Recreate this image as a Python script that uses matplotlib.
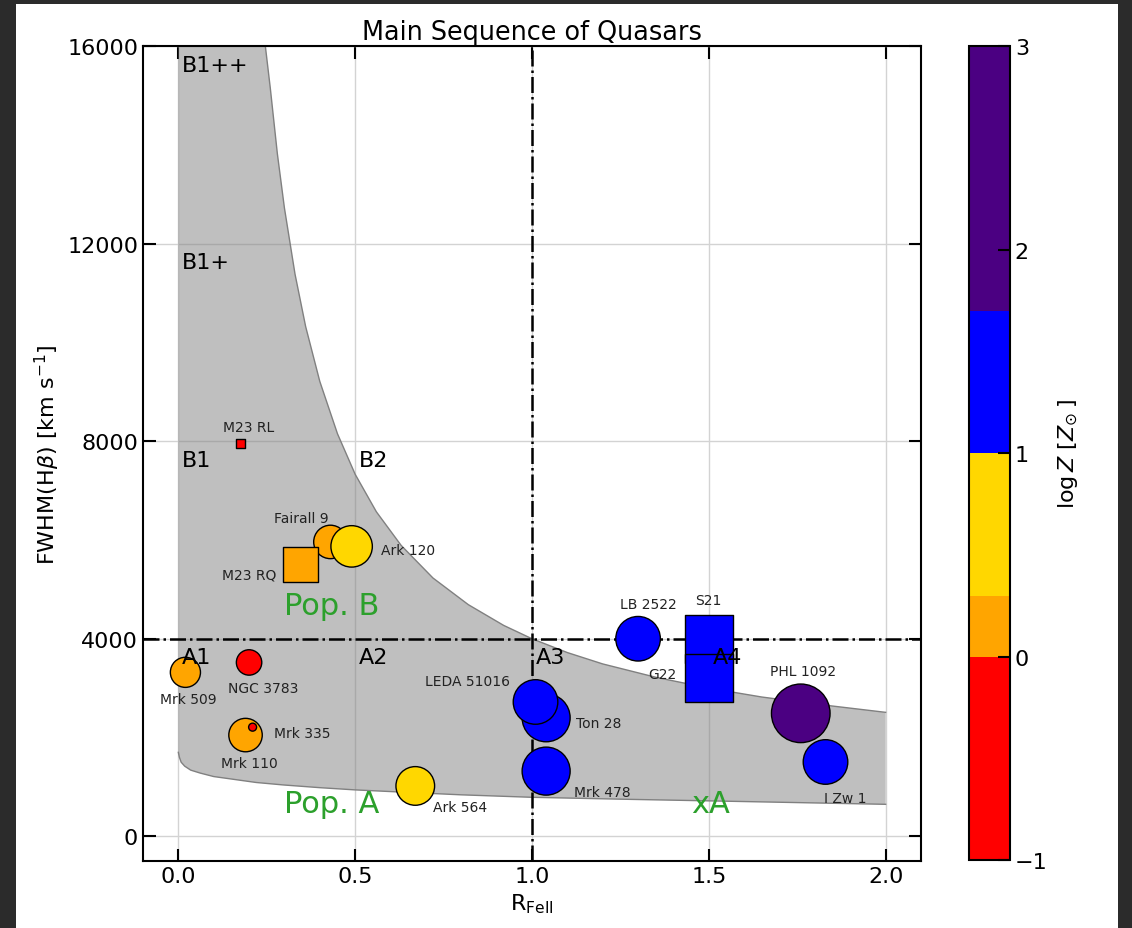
import numpy as np
import matplotlib
matplotlib.use('Agg')
import matplotlib.pyplot as plt
import matplotlib.cm as cm
from matplotlib.colors import ListedColormap, BoundaryNorm
from matplotlib.patches import Rectangle

# circle sources: R_FeII, FWHM(Hb), log Z, bubble area
names = ['Mrk 509', 'NGC 3783', 'Mrk 110', 'Mrk 335', 'Fairall 9', 'Ark 120', 'Ark 564',
         'Ton 28', 'LEDA 51016', 'Mrk 478', 'LB 2522', 'PHL 1092', 'I Zw 1']
rfe = [0.02, 0.20, 0.19, 0.21, 0.43, 0.49, 0.67, 1.04, 1.01, 1.04, 1.30, 1.76, 1.83]
fwhm = [3320, 3520, 2050, 2210, 5960, 5870, 1020, 2400, 2720, 1320, 4000, 2490, 1505]
logz = [0.0, -0.5, 0.0, -0.5, 0.0, 0.7, 0.7, 1.3, 1.3, 1.3, 1.3, 2.0, 1.3]
area = [470, 335, 580, 33, 580, 890, 775, 1195, 1030, 1195, 1030, 1780, 1030]

# square sources
sq_names = ['M23 RL', 'M23 RQ', 'S21', 'G22']
sq_rfe = [0.175, 0.345, 1.5, 1.5]
sq_fwhm = [7950, 5500, 4000, 3200]
sq_logz = [-0.5, 0.0, 1.3, 1.3]
sq_area = [45, 625, 1210, 1210]

# label anchor (centre) for each source
lab_pos = {
    'Mrk 509': (0.029, 2790), 'NGC 3783': (0.239, 2997), 'Mrk 110': (0.20, 1492),
    'Mrk 335': (0.349, 2100), 'Fairall 9': (0.349, 6454), 'Ark 120': (0.649, 5792),
    'Ark 564': (0.797, 601), 'Ton 28': (1.189, 2289), 'LEDA 51016': (0.818, 3146),
    'Mrk 478': (1.199, 905), 'LB 2522': (1.329, 4699), 'PHL 1092': (1.766, 3348),
    'I Zw 1': (1.886, 784), 'M23 RL': (0.20, 8277), 'M23 RQ': (0.20, 5292),
    'S21': (1.498, 4786), 'G22': (1.369, 3281),
}

# main-sequence envelope
up_r = [0.0, 0.246, 0.26, 0.28, 0.30, 0.33, 0.36, 0.40, 0.45, 0.50, 0.56, 0.63, 0.72,
        0.82, 0.92, 1.0, 1.1, 1.2, 1.35, 1.5, 1.65, 1.8, 2.0]
up_f = [17500, 16000, 15150, 13820, 12720, 11380, 10320, 9210, 8150, 7330, 6570, 5890,
        5230, 4690, 4270, 4000, 3720, 3490, 3220, 3000, 2820, 2680, 2510]
low_r = [0.0, 0.003, 0.008, 0.018, 0.035, 0.062, 0.1, 0.156, 0.22, 0.297, 0.4, 0.5,
         0.627, 0.8, 1.0, 1.25, 1.5, 1.75, 2.0]
low_f = [1700, 1600, 1500, 1420, 1340, 1280, 1210, 1154, 1090, 1040, 985, 940,
         897, 840, 790, 752, 718, 683, 648]

regions = ['B1++', 'B1+', 'B1', 'B2', 'A1', 'A2', 'A3', 'A4']
reg_x = [0.01, 0.01, 0.01, 0.51, 0.01, 0.51, 1.01, 1.51]
reg_y = [15500, 11500, 7500, 7500, 3500, 3500, 3500, 3500]

pops = ['Pop. B', 'Pop. A', 'xA']
pop_x = [0.3, 0.3, 1.45]
pop_y = [4500, 500, 500]

bounds = [-1, 0, 0.3, 1, 1.7, 3]
cmap = ListedColormap(['red', 'orange', 'gold', 'blue', 'indigo'])
norm = BoundaryNorm(bounds, cmap.N)

fig = plt.figure(figsize=(11.32, 9.29), dpi=100, facecolor='#2b2b2b')
fig.add_artist(Rectangle((16 / 1132, 0), 1102 / 1132, 924 / 929, transform=fig.transFigure,
                         facecolor='white', edgecolor='none', zorder=-1))
ax = fig.add_axes([0.1263, 0.0721, 0.6873, 0.8773])
cax = fig.add_axes([0.856, 0.0732, 0.0362, 0.876])

ax.set_axisbelow(True)
ax.grid(True, color='#d3d3d3', lw=1)

ax.fill(low_r + up_r[::-1], low_f + up_f[::-1], color='grey', alpha=0.5, lw=0, zorder=1)
ax.plot(up_r, up_f, color='grey', lw=1, zorder=1.5)
ax.plot(low_r, low_f, color='grey', lw=1, zorder=1.5)

ax.axhline(4000, color='black', ls='-.', lw=1.8, zorder=2)
ax.axvline(1.0, color='black', ls='-.', lw=1.8, zorder=2)

ax.scatter(rfe, fwhm, s=area, c=logz, cmap=cmap, norm=norm,
           edgecolors='black', linewidths=1, zorder=3)
ax.scatter(sq_rfe, sq_fwhm, s=sq_area, c=sq_logz, cmap=cmap, norm=norm, marker='s',
           edgecolors='black', linewidths=1, zorder=3)

for n in names + sq_names:
    x, y = lab_pos[n]
    ax.text(x, y, n, fontsize=10, color='#222222', ha='center', va='center', zorder=4)

for t, x, y in zip(regions, reg_x, reg_y):
    ax.text(x, y, t, fontsize=16, color='black', ha='left', va='baseline', zorder=4)

for t, x, y in zip(pops, pop_x, pop_y):
    ax.text(x, y, t, fontsize=22, color='tab:green', ha='left', va='baseline', zorder=4)

ax.set_xlim(-0.1, 2.1)
ax.set_ylim(-500, 16000)
ax.set_xticks([0, 0.5, 1.0, 1.5, 2.0])
ax.set_yticks([0, 4000, 8000, 12000, 16000])
ax.tick_params(direction='in', length=9, width=1.5, top=True, right=True, labelsize=16)
for s in ax.spines.values():
    s.set_linewidth(1.5)
ax.set_xlabel(r'R$_{\rm FeII}$', fontsize=16)
ax.set_ylabel(r'FWHM(H$\beta$) [km s$^{-1}$]', fontsize=16)
ax.set_title('Main Sequence of Quasars', fontsize=18.4, pad=5)

cb = fig.colorbar(cm.ScalarMappable(norm=norm, cmap=cmap), cax=cax,
                  ticks=[-1, 0, 1, 2, 3], spacing='proportional')
cb.ax.minorticks_off()
cb.ax.tick_params(direction='in', length=9, width=1.5, labelsize=16)
cb.outline.set_linewidth(1.5)
cb.set_label(r'$\log Z\ [Z_{\odot}\,]$', fontsize=16, labelpad=6)

fig.savefig('out.png', dpi=100)
